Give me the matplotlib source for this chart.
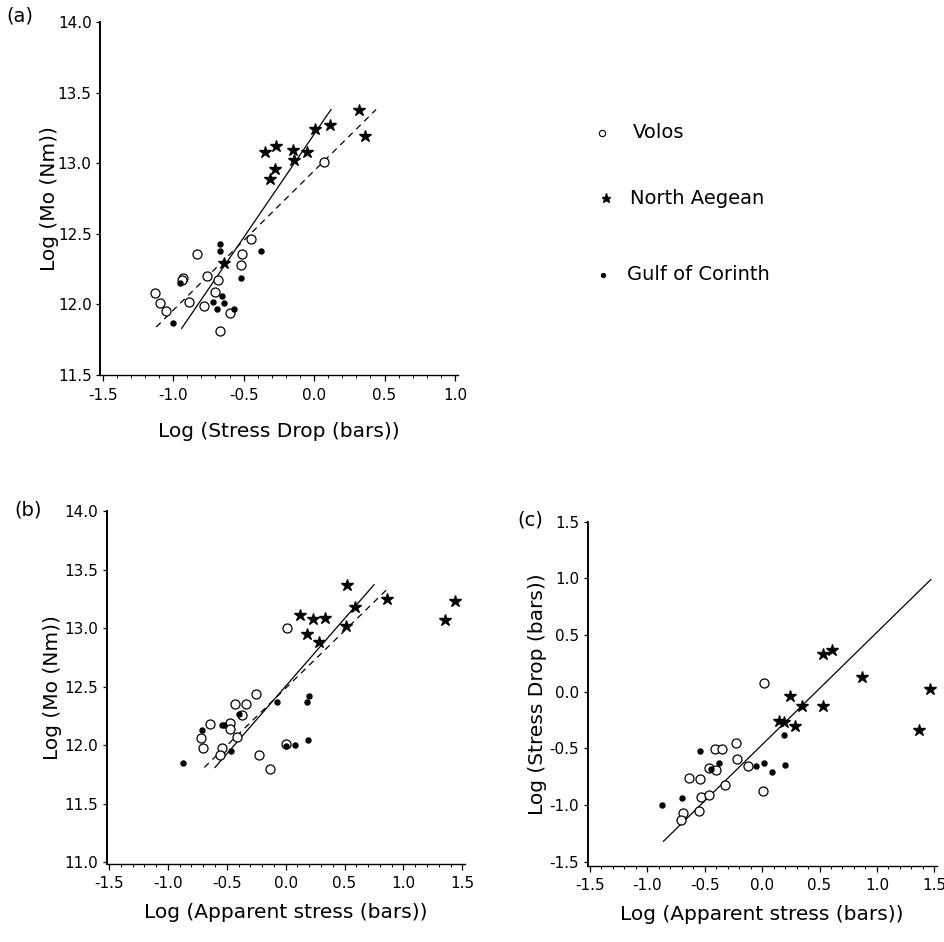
import matplotlib; matplotlib.use('Agg')
import matplotlib.pyplot as plt
from matplotlib.ticker import MultipleLocator, FormatStrFormatter

plt.rcParams.update({
    'font.family': 'DejaVu Sans',
    'axes.unicode_minus': False,
    'axes.spines.top': False,
    'axes.spines.right': False,
})

# ---- (a) moment vs stress drop ----
volos_a_x = [0.07, -0.45, -0.51, -0.52, -0.83, -0.93, -0.94, -0.76, -0.68, -0.70, -0.89, -0.78, -0.60, -0.67, -1.13, -1.09, -1.05]
volos_a_y = [13.01, 12.46, 12.36, 12.28, 12.36, 12.19, 12.17, 12.20, 12.17, 12.09, 12.02, 11.99, 11.94, 11.81, 12.08, 12.01, 11.95]
aegean_a_x = [0.32, 0.36, 0.11, 0.01, -0.05, -0.15, -0.14, -0.27, -0.35, -0.28, -0.31, -0.64]
aegean_a_y = [13.38, 13.19, 13.27, 13.24, 13.08, 13.09, 13.02, 13.12, 13.08, 12.96, 12.89, 12.29]
corinth_a_x = [-0.67, -0.67, -0.38, -0.52, -0.95, -0.65, -0.64, -0.72, -0.69, -0.57, -1.00]
corinth_a_y = [12.43, 12.38, 12.38, 12.19, 12.15, 12.06, 12.01, 12.02, 11.97, 11.97, 11.87]
fit_a_x, fit_a_y = [-0.94, 0.12], [11.83, 13.38]
dash_a_x, dash_a_y = [-1.12, 0.44], [11.84, 13.38]

# ---- (b) moment vs apparent stress ----
volos_b_x = [0.01, -0.25, -0.43, -0.34, -0.37, -0.64, -0.47, -0.47, -0.72, -0.70, -0.41, -0.54, -0.56, -0.23, -0.13, 0.00]
volos_b_y = [13.00, 12.44, 12.35, 12.35, 12.26, 12.18, 12.19, 12.14, 12.06, 11.98, 12.07, 11.98, 11.92, 11.92, 11.80, 12.01]
aegean_b_x = [0.52, 1.44, 1.35, 0.86, 0.59, 0.51, 0.12, 0.23, 0.33, 0.18, 0.28]
aegean_b_y = [13.37, 13.23, 13.07, 13.25, 13.18, 13.02, 13.11, 13.08, 13.09, 12.95, 12.88]
corinth_b_x = [-0.87, -0.71, -0.54, -0.52, -0.40, -0.46, -0.07, 0.20, 0.18, 0.00, 0.08, 0.19]
corinth_b_y = [11.85, 12.13, 12.17, 12.17, 12.27, 11.95, 12.37, 12.42, 12.37, 11.99, 12.00, 12.04]
fit_b_x, fit_b_y = [-0.60, 0.75], [11.81, 13.37]
dash_b_x, dash_b_y = [-0.69, 0.88], [11.81, 13.35]

# ---- (c) stress drop vs apparent stress ----
volos_c_x = [0.02, -0.23, -0.41, -0.35, -0.22, -0.12, -0.46, -0.40, -0.64, -0.54, -0.32, -0.53, -0.46, 0.01, -0.69, -0.71, -0.55]
volos_c_y = [0.08, -0.45, -0.51, -0.51, -0.59, -0.66, -0.67, -0.69, -0.76, -0.77, -0.82, -0.93, -0.91, -0.88, -1.07, -1.13, -1.05]
aegean_c_x = [0.53, 0.61, 0.87, 1.46, 1.37, 0.24, 0.35, 0.53, 0.15, 0.19, 0.29]
aegean_c_y = [0.33, 0.37, 0.13, 0.02, -0.34, -0.04, -0.13, -0.13, -0.26, -0.27, -0.30]
corinth_c_x = [-0.87, -0.70, -0.54, -0.38, -0.45, -0.05, 0.02, 0.09, 0.20, 0.19]
corinth_c_y = [-1.00, -0.94, -0.52, -0.63, -0.68, -0.66, -0.63, -0.71, -0.65, -0.38]
fit_c_x, fit_c_y = [-0.86, 1.47], [-1.32, 0.99]

W, H = 945, 942
fig = plt.figure(figsize=(W / 100, H / 100), dpi=100)


def px_axes(left, top, right, bottom):
    return fig.add_axes([left / W, 1 - bottom / H, (right - left) / W, (bottom - top) / H])


def style(ax, xlim, ylim):
    ax.set_xlim(*xlim)
    ax.set_ylim(*ylim)
    ax.xaxis.set_major_locator(MultipleLocator(0.5))
    ax.xaxis.set_minor_locator(MultipleLocator(0.1))
    ax.yaxis.set_major_locator(MultipleLocator(0.5))
    ax.xaxis.set_major_formatter(FormatStrFormatter('%.1f'))
    ax.yaxis.set_major_formatter(FormatStrFormatter('%.1f'))
    ax.tick_params(axis='x', which='major', length=4, width=0.9, labelsize=11, pad=5)
    ax.tick_params(axis='x', which='minor', length=2.5, width=0.7)
    ax.tick_params(axis='y', which='major', length=3, width=0.9, labelsize=11, pad=3)
    ax.spines['left'].set_linewidth(1.4)
    ax.spines['bottom'].set_linewidth(1.0)


def scatter3(ax, vx, vy, ax_, ay, cx, cy):
    ax.plot(vx, vy, 'o', ms=6.5, mfc='white', mec='black', mew=0.9, ls='none', clip_on=False)
    ax.plot(ax_, ay, '*', ms=9, color='black', ls='none', clip_on=False)
    ax.plot(cx, cy, 'o', ms=3.6, color='black', ls='none', clip_on=False)


# (a)
ax1 = px_axes(99.9, 22, 457.8, 375)
style(ax1, (-1.52, 1.02), (11.5, 14.0))
ax1.plot(fit_a_x, fit_a_y, color='black', lw=0.9)
ax1.plot(dash_a_x, dash_a_y, color='black', lw=0.9, ls=(0, (5, 4)))
scatter3(ax1, volos_a_x, volos_a_y, aegean_a_x, aegean_a_y, corinth_a_x, corinth_a_y)
ax1.set_xlabel('Log (Stress Drop (bars))', fontsize=14.5, labelpad=14)
ax1.set_ylabel('Log (Mo (Nm))', fontsize=14.5, labelpad=-1)

# (b)
ax2 = px_axes(106.6, 511, 464.7, 864)
style(ax2, (-1.52, 1.52), (10.985, 14.0))
ax2.plot(fit_b_x, fit_b_y, color='black', lw=0.9)
ax2.plot(dash_b_x, dash_b_y, color='black', lw=0.9, ls=(0, (5, 4)))
scatter3(ax2, volos_b_x, volos_b_y, aegean_b_x, aegean_b_y, corinth_b_x, corinth_b_y)
ax2.set_xlabel('Log (Apparent stress (bars))', fontsize=14.5, labelpad=8)
ax2.set_ylabel('Log (Mo (Nm))', fontsize=14.5, labelpad=2)

# (c)
ax3 = px_axes(587.7, 521.7, 936.6, 866)
style(ax3, (-1.52, 1.52), (-1.538, 1.5))
ax3.plot(fit_c_x, fit_c_y, color='black', lw=0.9)
scatter3(ax3, volos_c_x, volos_c_y, aegean_c_x, aegean_c_y, corinth_c_x, corinth_c_y)
ax3.set_xlabel('Log (Apparent stress (bars))', fontsize=14.5, labelpad=8)
ax3.set_ylabel('Log (Stress Drop (bars))', fontsize=14.5, labelpad=2)

# panel tags
fig.text(20 / W, 1 - 16 / H, '(a)', fontsize=14, ha='center', va='center')
fig.text(28 / W, 1 - 510 / H, '(b)', fontsize=14, ha='center', va='center')
fig.text(530 / W, 1 - 520 / H, '(c)', fontsize=14, ha='center', va='center')

# key for the three regions
key = fig.add_axes([0, 0, 1, 1], facecolor='none')
key.set_xlim(0, W)
key.set_ylim(H, 0)
key.axis('off')
key.plot([602], [133], 'o', ms=4.5, mfc='white', mec='black', mew=0.8)
key.plot([606], [198], '*', ms=6.5, color='black')
key.plot([603], [275], 'o', ms=2.8, color='black')
key.text(633, 133, 'Volos', fontsize=14, va='center')
key.text(630, 198, 'North Aegean', fontsize=14, va='center')
key.text(627, 275, 'Gulf of Corinth', fontsize=14, va='center')

fig.savefig('out.png', dpi=100)
